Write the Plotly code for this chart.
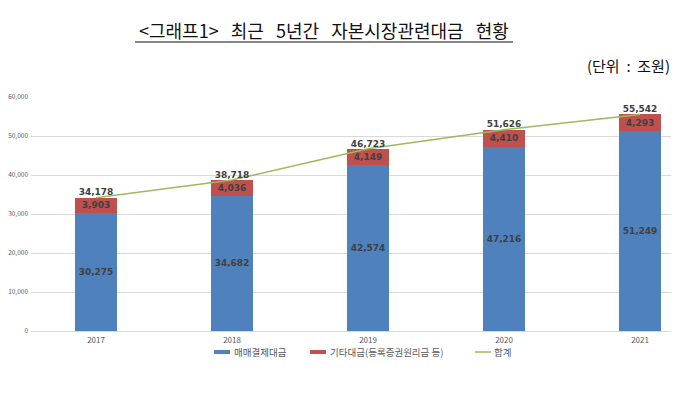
import plotly.graph_objects as go

years = ["2017", "2018", "2019", "2020", "2021"]
settlement = [30275, 34682, 42574, 47216, 51249]
other = [3903, 4036, 4149, 4410, 4293]
total = [34178, 38718, 46723, 51626, 55542]
y_ticks = [0, 10000, 20000, 30000, 40000, 50000, 60000]
series_names = ["매매결제대금", "기타대금(등록증권원리금 등)", "합계"]
series_colors = ["#4F81BD", "#C0504D", "#9BBB59"]

FONT = "Noto Sans CJK KR, Noto Sans, sans-serif"
LBL = dict(family="DejaVu Sans", size=9, color="#404040")

# page has an 8px body margin; work in figure pixel coords
L, R, T, B = 23, 15, 89, 85
W, H = 679, 408
pw, ph = W - L - R, H - T - B
first_center, step = 88, 136


def px(x):
    return (x - L) / pw


def py(y):
    return (H - B - y) / ph


fig = go.Figure()
fig.add_trace(go.Bar(
    x=years, y=settlement, name=series_names[0], showlegend=False,
    marker=dict(color=series_colors[0], line=dict(width=0)),
    texttemplate="<b>%{y:,}</b>", textposition="inside",
    insidetextanchor="middle", textangle=0, constraintext="none",
    textfont=LBL, width=0.316,
))
fig.add_trace(go.Bar(
    x=years, y=other, name=series_names[1], showlegend=False,
    marker=dict(color=series_colors[1], line=dict(width=0)),
    texttemplate="<b>%{y:,}</b>", textposition="inside",
    insidetextanchor="middle", textangle=0, constraintext="none",
    textfont=LBL, width=0.316,
))
fig.add_trace(go.Scatter(
    x=years, y=total, name=series_names[2], mode="lines+text", showlegend=False,
    line=dict(color=series_colors[2], width=1.5),
    texttemplate="<b>%{y:,}</b>", textposition="top center",
    textfont=LBL, cliponaxis=False,
))

annotations = [
    dict(text="<그래프1>   최근   5년간   자본시장관련대금   현황", x=px(316), y=py(22),
         xanchor="center", yanchor="middle",
         font=dict(family=FONT, size=18, color="#111111")),
    dict(text="(단위  :  조원)", x=px(664), y=py(57), xanchor="right", yanchor="middle",
         font=dict(family=FONT, size=15, color="#111111")),
]

shapes = [
    dict(type="line", xref="paper", yref="paper", x0=px(127), x1=px(505),
         y0=py(34), y1=py(34), line=dict(color="#111111", width=1.2)),
]

# legend (custom, to mimic flat swatches)
leg_y = 344
swatch_x = [206, 302, 467]
text_x = [224, 320, 484]
for i in range(3):
    if i < 2:
        shapes.append(dict(type="rect", xref="paper", yref="paper",
                           x0=px(swatch_x[i]), x1=px(swatch_x[i] + 16),
                           y0=py(leg_y + 2), y1=py(leg_y - 2),
                           fillcolor=series_colors[i], line=dict(width=0)))
    else:
        shapes.append(dict(type="line", xref="paper", yref="paper",
                           x0=px(swatch_x[i]), x1=px(swatch_x[i] + 16),
                           y0=py(leg_y), y1=py(leg_y),
                           line=dict(color=series_colors[i], width=1.5)))
    annotations.append(dict(text=series_names[i], x=px(text_x[i]), y=py(leg_y),
                            xanchor="left", yanchor="middle",
                            font=dict(family=FONT, size=9.5, color="#595959")))

for a in annotations:
    a.update(xref="paper", yref="paper", showarrow=False)

fig.update_layout(
    width=W, height=H,
    barmode="stack",
    paper_bgcolor="white", plot_bgcolor="white",
    margin=dict(l=L, r=R, t=T, b=B, autoexpand=False),
    font=dict(family=FONT, color="#595959"),
    showlegend=False,
    xaxis=dict(range=[(L - first_center) / step, (W - R - first_center) / step],
               showgrid=False, showline=False, ticks="",
               tickfont=dict(family=FONT, size=8, color="#595959"), fixedrange=True,
               ticklabelstandoff=3),
    yaxis=dict(range=[0, 60000], tickvals=y_ticks, tickformat=",",
               showgrid=True, gridcolor="#D9D9D9", gridwidth=1,
               zeroline=True, zerolinecolor="#D9D9D9", zerolinewidth=1,
               tickfont=dict(family=FONT, size=6.5, color="#595959"), ticklabelstandoff=2,
               automargin=False),
    annotations=annotations,
    shapes=shapes,
)

fig.write_html("out.html")
